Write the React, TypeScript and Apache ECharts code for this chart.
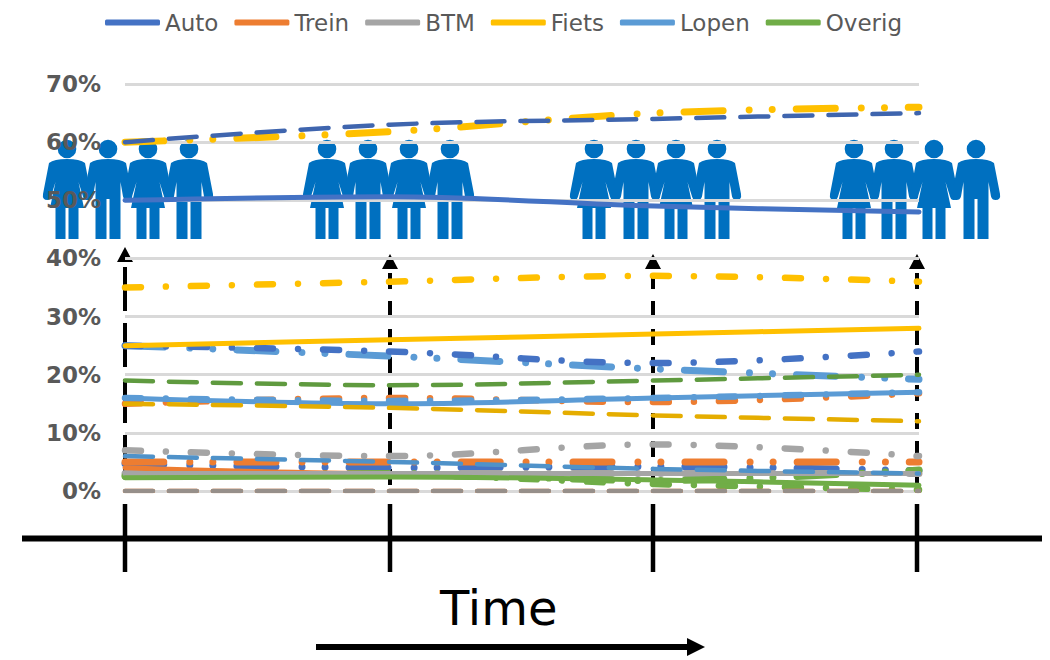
import React, { useEffect, useRef } from "react";
import * as echarts from "echarts";

const periods = ["T1", "T2", "T3", "T4"];
const modes = ["Auto", "Trein", "BTM", "Fiets", "Lopen", "Overig"];
const yTicks = [0, 10, 20, 30, 40, 50, 60, 70];

// Solid family (named in the legend)
const solidAuto = [50, 50.6, 49, 48];
const solidTrein = [4, 3, 3, 3];
const solidBtm = [3, 3, 3, 3];
const solidFiets = [25, 26, 27, 28];
const solidLopen = [16, 15, 16, 17];
const solidOverig = [2.3, 2.4, 1.9, 1];

// Long dash family
const dashAuto = [60, 63, 64, 65];
const dashTrein = [0, 0, 0, 0];
const dashBtm = [0, 0, 0, 0];
const dashFiets = [15, 14.3, 13, 12];
const dashLopen = [6, 5, 3.8, 3];
const dashOverig = [19, 18.2, 19, 20];

// Dash-dot family
const dotAuto = [25, 24, 22, 24];
const dotTrein = [15, 16, 15.3, 16.8];
const dotBtm = [7, 6, 8, 6];
const dotFiets = [35, 36, 37, 36];
const dotLopen = [16, 15.5, 16, 17];
const dotOverig = [2.5, 2.7, 1.2, 0.2];

// Long dash-dot-dot family
const twoDotAuto = [4.7, 4, 4.2, 3.5];
const twoDotTrein = [5, 5, 5, 5];
const twoDotBtm = [3, 3, 3, 3];
const twoDotFiets = [60, 61.8, 65, 66];
const twoDotLopen = [25, 23.2, 21, 19.2];
const twoDotOverig = [2.6, 3, 1.8, 3.6];

const colors = ["#4472C4", "#ED7D31", "#A5A5A5", "#FFC000", "#5B9BD5", "#70AD47"];
const dashColors = ["#3F65AE", "#ED7D31", "#968F8A", "#E5AD00", "#4F92C9", "#5F9A3F"];

const manPath =
  "M9.3 9A9.3 9.3 0 1 1 -9.3 9A9.3 9.3 0 1 1 9.3 9Z" +
  "M0 19Q13 19 18 23L24 54Q25 60 19.5 60Q16 60 15 56.5L12.5 42L12.5 99L1.5 99L1.5 59L-1.5 59L-1.5 99L-12.5 99L-12.5 42L-15 56.5Q-16 60 -19.5 60Q-25 60 -24 54L-18 23Q-13 19 0 19Z";
const womanPath =
  "M9.3 9A9.3 9.3 0 1 1 -9.3 9A9.3 9.3 0 1 1 9.3 9Z" +
  "M0 19Q13 19 18 23L24 54Q25 60 19.5 60Q17 60 16 56.5L11.5 42L17 68L11.5 68L11.5 99L1.5 99L1.5 68L-1.5 68L-1.5 99L-11.5 99L-11.5 68L-17 68L-11.5 42L-16 56.5Q-17 60 -19.5 60Q-25 60 -24 54L-18 23Q-13 19 0 19Z";
echarts.graphic.registerShape("man", echarts.graphic.extendPath(manPath as any, {}) as any);
echarts.graphic.registerShape("woman", echarts.graphic.extendPath(womanPath as any, {}) as any);

const peopleX = [67, 108, 148, 189, 327, 368, 409, 450, 594, 636, 676, 717, 854, 894, 934, 976];
const markerX = [125, 390, 653, 917];
const firstDash = [44, 12];
const otherDash = [16, 12];

function family(values: number[][], palette: string[], width: number, dash: any, z: number, suffix: string) {
  return values.map((data, i) => ({
    type: "line",
    name: modes[i] + suffix,
    data,
    z,
    smooth: 0.35,
    symbol: "none",
    silent: true,
    lineStyle: { color: palette[i], width, type: dash, cap: "round", join: "round" },
    itemStyle: { color: palette[i] },
  }));
}

function buildGraphics() {
  const els: any[] = [];
  peopleX.forEach((x, i) => {
    els.push({
      type: i % 2 === 0 ? "woman" : "man",
      x,
      y: 140,
      silent: true,
      style: { fill: "#0070C0" },
    });
  });
  markerX.forEach((x, i) => {
    const head = i === 0 ? 247 : 254;
    els.push({
      type: "polygon",
      silent: true,
      shape: { points: [[x, head], [x - 8, head + 15], [x + 8, head + 15]] },
      style: { fill: "#000" },
    });
    els.push({
      type: "line",
      silent: true,
      shape: { x1: x, y1: i === 0 ? 267 : 273, x2: x, y2: 486 },
      style: { stroke: "#000", lineWidth: 4, lineDash: i === 0 ? firstDash : otherDash },
    });
    els.push({
      type: "line",
      silent: true,
      shape: { x1: x, y1: 504, x2: x, y2: 572 },
      style: { stroke: "#000", lineWidth: 4.5 },
    });
  });
  els.push({
    type: "line",
    silent: true,
    shape: { x1: 22, y1: 538.5, x2: 1042, y2: 538.5 },
    style: { stroke: "#000", lineWidth: 6 },
  });
  els.push({
    type: "text",
    silent: true,
    x: 440,
    y: 584,
    style: { text: "Time", fill: "#000", font: '48px "DejaVu Sans"' },
  });
  els.push({
    type: "line",
    silent: true,
    shape: { x1: 316, y1: 647, x2: 692, y2: 647 },
    style: { stroke: "#000", lineWidth: 6 },
  });
  els.push({
    type: "polygon",
    silent: true,
    shape: { points: [[687, 638], [705, 647], [687, 656]] },
    style: { fill: "#000" },
  });
  return els;
}

export default function App() {
  const ref = useRef<HTMLDivElement>(null);
  useEffect(() => {
    document.body.style.margin = "0";
    const chart = echarts.init(ref.current!, undefined, { renderer: "svg" });
    chart.setOption({
      animation: false,
      backgroundColor: "#fff",
      grid: { left: 125, right: 131, top: 84, bottom: 169 },
      legend: {
        data: modes,
        left: 100,
        top: 6,
        icon: "roundRect",
        itemWidth: 55,
        itemHeight: 6,
        itemGap: 16,
        selectedMode: false,
        textStyle: { color: "#595959", fontSize: 23, fontFamily: "DejaVu Sans" },
      },
      xAxis: { type: "category", data: periods, boundaryGap: false, show: false },
      yAxis: {
        type: "value",
        min: yTicks[0],
        max: yTicks[yTicks.length - 1],
        interval: 10,
        axisLine: { show: false },
        axisTick: { show: false },
        axisLabel: {
          formatter: "{value}%",
          margin: 24,
          padding: [4, 0, 0, 0],
          color: "#595959",
          fontSize: 23,
          fontWeight: "bold",
          fontFamily: "DejaVu Sans",
        },
        splitLine: { lineStyle: { color: "#D9D9D9", width: 3 } },
      },
      graphic: { z: -1, elements: buildGraphics() },
      series: [
        ...family([solidAuto, solidTrein, solidBtm, solidFiets, solidLopen, solidOverig], colors, 5, "solid", 4, ""),
        ...family([twoDotAuto, twoDotTrein, twoDotBtm, twoDotFiets, twoDotLopen, twoDotOverig], colors, 7, [39, 26, 0.01, 23, 0.01, 24], 2, " lang-punt-punt"),
        ...family([dotAuto, dotTrein, dotBtm, dotFiets, dotLopen, dotOverig], colors, 6.5, [16, 25, 0.01, 25], 3, " streep-punt"),
        ...family([dashAuto, dashTrein, dashBtm, dashFiets, dashLopen, dashOverig], dashColors, 4.5, [28, 16], 5, " streep"),
      ],
    });
    return () => chart.dispose();
  }, []);
  return <div ref={ref} style={{ position: "absolute", left: 0, top: 0, width: 1050, height: 660 }} />;
}
